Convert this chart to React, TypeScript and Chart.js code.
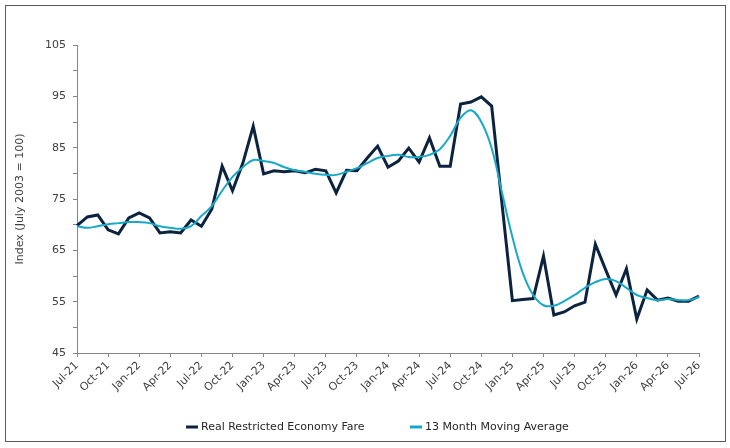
import { useEffect, useRef } from "react";
import { Chart, registerables } from "chart.js";

Chart.register(...registerables);

// Monthly index of real restricted economy fares, Jul-21 to Jul-26
const months = [
  "Jul-21", "Aug-21", "Sep-21", "Oct-21", "Nov-21", "Dec-21",
  "Jan-22", "Feb-22", "Mar-22", "Apr-22", "May-22", "Jun-22",
  "Jul-22", "Aug-22", "Sep-22", "Oct-22", "Nov-22", "Dec-22",
  "Jan-23", "Feb-23", "Mar-23", "Apr-23", "May-23", "Jun-23",
  "Jul-23", "Aug-23", "Sep-23", "Oct-23", "Nov-23", "Dec-23",
  "Jan-24", "Feb-24", "Mar-24", "Apr-24", "May-24", "Jun-24",
  "Jul-24", "Aug-24", "Sep-24", "Oct-24", "Nov-24", "Dec-24",
  "Jan-25", "Feb-25", "Mar-25", "Apr-25", "May-25", "Jun-25",
  "Jul-25", "Aug-25", "Sep-25", "Oct-25", "Nov-25", "Dec-25",
  "Jan-26", "Feb-26", "Mar-26", "Apr-26", "May-26", "Jun-26",
  "Jul-26",
];

const fare = [
  69.8, 71.5, 71.9, 69.0, 68.2, 71.3, 72.3, 71.3, 68.4, 68.6,
  68.4, 70.9, 69.7, 73.0, 81.4, 76.6, 82.0, 89.2, 79.9, 80.5,
  80.3, 80.5, 80.1, 80.8, 80.5, 76.2, 80.6, 80.5, 83.0, 85.3,
  81.2, 82.4, 84.9, 82.2, 86.9, 81.4, 81.4, 93.5, 93.9, 94.9,
  93.1, 74.0, 55.2, 55.4, 55.6, 63.9, 52.4, 53.0, 54.2, 54.9,
  66.2, 61.2, 56.3, 61.4, 51.6, 57.3, 55.3, 55.7, 55.1, 55.1,
  56.1,
];

const movingAvg = [
  69.7, 69.4, 69.7, 70.1, 70.3, 70.5, 70.5, 70.3, 69.7, 69.4,
  69.2, 69.7, 71.7, 73.6, 76.6, 79.3, 81.2, 82.6, 82.4, 82.0,
  81.2, 80.6, 80.3, 79.9, 79.7, 79.7, 80.3, 81.0, 82.0, 83.0,
  83.4, 83.6, 83.2, 83.2, 83.6, 84.7, 87.3, 90.8, 92.3, 90.0,
  84.9, 76.2, 67.6, 60.6, 56.3, 54.3, 54.2, 55.1, 56.3, 57.7,
  58.8, 59.4, 59.0, 57.7, 56.3, 55.7, 55.3, 55.5, 55.3, 55.3,
  55.9,
];

const seriesNames = ["Real Restricted Economy Fare", "13 Month Moving Average"];
const seriesColors = ["#0c2340", "#17a9c6"];

const FONT = "'DejaVu Sans', Verdana, sans-serif";
const TEXT = "#404040";
const AXIS = "#868686";

// Outer frame and a bottom legend with short line swatches
const frameAndLegend = {
  id: "frameAndLegend",
  afterDraw(chart: any) {
    const ctx = chart.ctx;
    ctx.save();
    ctx.strokeStyle = "#595959";
    ctx.lineWidth = 1;
    ctx.strokeRect(5.5, 5.5, 720, 436);

    const starts = [186, 410];
    const y = 427;
    ctx.font = `11px ${FONT}`;
    ctx.textBaseline = "middle";
    ctx.textAlign = "left";
    chart.data.datasets.forEach((ds: any, i: number) => {
      const x = starts[i];
      ctx.strokeStyle = ds.borderColor;
      ctx.lineWidth = 3;
      ctx.beginPath();
      ctx.moveTo(x, y);
      ctx.lineTo(x + 12, y);
      ctx.stroke();
      ctx.fillStyle = "#262626";
      ctx.fillText(ds.label, x + 15, y + 0.5);
    });
    ctx.restore();
  },
};

export default function App() {
  const ref = useRef<HTMLCanvasElement | null>(null);

  useEffect(() => {
    if (!ref.current) return;
    const chart = new Chart(ref.current, {
      type: "line",
      data: {
        labels: months,
        datasets: [
          {
            label: seriesNames[0],
            data: fare,
            borderColor: seriesColors[0],
            backgroundColor: seriesColors[0],
            borderWidth: 3,
            pointRadius: 0,
            tension: 0,
            order: 1,
          },
          {
            label: seriesNames[1],
            data: movingAvg,
            borderColor: seriesColors[1],
            backgroundColor: seriesColors[1],
            borderWidth: 2,
            pointRadius: 0,
            tension: 0.4,
            order: 0,
          },
        ],
      },
      options: {
        animation: false,
        responsive: false,
        maintainAspectRatio: false,
        layout: { padding: { left: 0, top: 45, right: 31, bottom: 35 } },
        plugins: {
          legend: { display: false },
          tooltip: { enabled: false },
        },
        scales: {
          x: {
            type: "category",
            offset: false,
            border: { color: AXIS, width: 1 },
            grid: { drawOnChartArea: false, drawTicks: true, tickLength: 4, color: AXIS },
            ticks: {
              autoSkip: false,
              maxRotation: 45,
              minRotation: 45,
              padding: 2,
              color: TEXT,
              font: { family: FONT, size: 11 },
              callback: function (this: any, v: any, i: number) {
                return i % 3 === 0 ? this.getLabelForValue(v) : null;
              },
            },
            afterFit(s: any) {
              s.height = 60;
            },
          },
          y: {
            min: 45,
            max: 105,
            border: { color: AXIS, width: 1 },
            grid: { drawOnChartArea: false, drawTicks: true, tickLength: 4, color: AXIS },
            ticks: {
              stepSize: 5,
              autoSkip: false,
              padding: 7,
              color: TEXT,
              font: { family: FONT, size: 11 },
              callback: (v: any) => ((Number(v) - 45) % 10 === 0 ? String(v) : ""),
            },
            title: {
              display: true,
              text: "Index (July 2003 = 100)",
              color: TEXT,
              font: { family: FONT, size: 11 },
              padding: { top: 14, bottom: 0 },
            },
            afterFit(s: any) {
              s.width = 77;
            },
          },
        },
      },
      plugins: [frameAndLegend],
    });
    return () => chart.destroy();
  }, []);

  return (
    <div style={{ position: "absolute", left: 0, top: 0, width: 730, height: 448, background: "#fff" }}>
      <canvas ref={ref} width={730} height={448} style={{ display: "block" }} />
    </div>
  );
}
